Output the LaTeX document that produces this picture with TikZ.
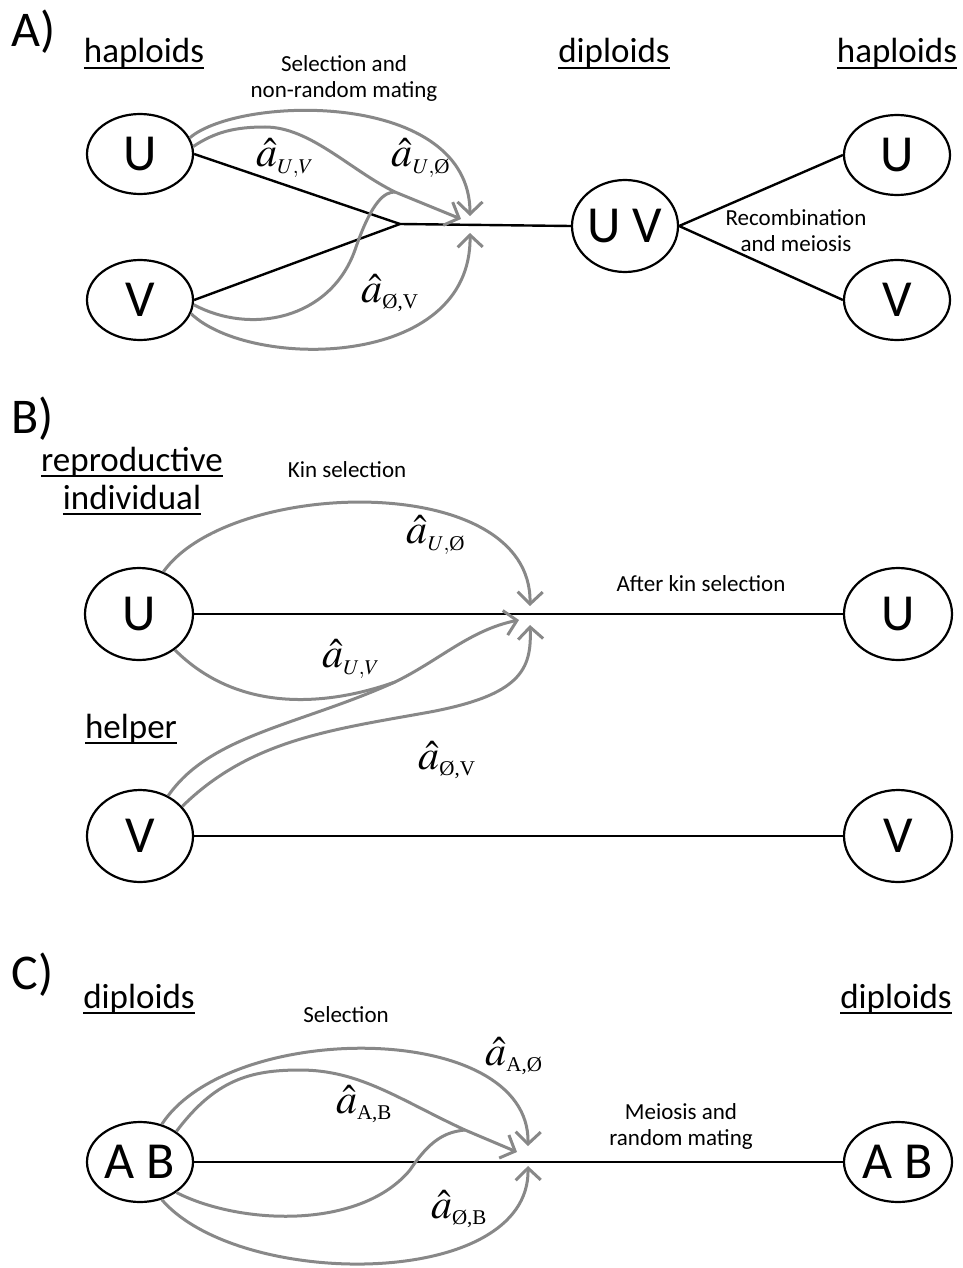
\documentclass[tikz,border=0pt]{standalone}
\usepackage{mathptmx}
\usepackage{amsmath}
\usepackage{fontspec}
\setmainfont{Carlito}
\newfontfamily\lblfont{Liberation Serif}
\usetikzlibrary{shapes.geometric, arrows.meta}
\DeclareMathSizes{42}{42}{21}{16}

\definecolor{selgray}{RGB}{136,136,136}
\newcommand{\hdrline}[1]{\setbox0\hbox{#1}\rlap{\rule[-6pt]{\wd0}{2.4pt}}\box0}

\tikzset{
  popn/.style={draw, ellipse, line width=2.2pt, inner sep=0pt, minimum width=106pt, minimum height=80pt, font=\fontsize{52}{58}\selectfont},
  link/.style={line width=2.4pt},
  sel/.style={line width=3pt, draw=selgray, -{Straight Barb[length=12pt, width=25pt]}},
  selm/.style={line width=3pt, draw=selgray},
  hdr/.style={anchor=base, font=\fontsize{35}{38}\selectfont, align=center},
  note/.style={font=\fontsize{23}{26}\selectfont, align=center},
  panel/.style={anchor=base west, font=\fontsize{50}{56}\selectfont},
  coef/.style={font=\fontsize{42}{46}\selectfont},
}

\begin{document}
\begin{tikzpicture}[x=1pt, y=-1pt]
\useasboundingbox (0,0) rectangle (962,1268);

% A)
\node[panel] (lblA) at (8,47) {A)};
\node[hdr] (hapA) at (144,63) {\hdrline{haploids}};
\node[hdr] (dipA) at (614,63) {\hdrline{diploids}};
\node[hdr] (hapA2) at (897,63) {\hdrline{haploids}};
\node[note] (selA) at (344,78) {Selection and\\non-random mating};
\node[note] (recA) at (796,231) {Recombination\\and meiosis};

\node[popn] (uA) at (140,154) {U};
\node[popn] (vA) at (140,300) {V};
\node[popn, minimum height=92pt] (uvA) at (625,226) {U V};
\node[popn] (uA2) at (897,155) {U};
\node[popn] (vA2) at (897,300) {V};
\coordinate (jA) at (400,224);
\draw[link] (uA.east) -- (jA);
\draw[link] (vA.east) -- (jA);
\draw[link] (jA) -- (uvA.west);
\draw[link] (uvA.east) -- (uA2.west);
\draw[link] (uvA.east) -- (vA2.west);

\coordinate (tAd) at (470,216);
\coordinate (tAr) at (461,219);
\coordinate (tAu) at (470,233);
\coordinate (mA) at (395,192);
\draw[sel] (uA.18) .. controls (240,95) and (470,90) .. (tAd);
\draw[sel] (uA.8) .. controls (215,132) and (235,127) .. (265,127) .. controls (310,127) and (350,170) .. (mA) -- (tAr);
\draw[selm] (vA.-5) .. controls (250,335) and (330,320) .. (355,250) .. controls (372,200) and (385,192) .. (mA);
\draw[sel] (vA.-15) .. controls (250,370) and (472,370) .. (tAu);
\node[coef] (aUVa) at (285,158) {$\hat{a}_{U,V}$};
\node[coef] (aUOa) at (421,158) {$\hat{a}_{U,\text{\lblfont\O}}$};
\node[coef] (aOVa) at (390,293) {$\hat{a}_{\text{\lblfont\O,V}}$};

% B)
\node[panel] (lblB) at (8,433) {B)};
\node[hdr] (repB) at (132,509) {\hdrline{reproductive}\\\hdrline{individual}};
\node[hdr] (helpB) at (131,738) {\hdrline{helper}};
\node[note] (kinB) at (347,470) {Kin selection};
\node[note] (aftB) at (701,584) {After kin selection};

\node[popn, minimum width=108pt, minimum height=92pt] (uB) at (139,614) {U};
\node[popn, minimum width=108pt, minimum height=92pt] (uB2) at (898,614) {U};
\node[popn, minimum width=106pt, minimum height=92pt] (vB) at (140,836) {V};
\node[popn, minimum width=108pt, minimum height=92pt] (vB2) at (898,836) {V};
\draw[link] (uB.east) -- (uB2.west);
\draw[link] (vB.east) -- (vB2.west);

\coordinate (tBd) at (530,606);
\coordinate (tBr) at (519,620);
\coordinate (tBu) at (530,625);
\coordinate (mB) at (395,682);
\draw[sel] (uB.60) .. controls (230,478) and (532,470) .. (tBd);
\draw[selm] (uB.-45) .. controls (240,715) and (330,705) .. (mB);
\draw[sel] (vB.55) .. controls (210,735) and (300,725) .. (mB) .. controls (440,660) and (470,630) .. (tBr);
\draw[sel] (vB.35) .. controls (250,740) and (330,730) .. (430,712) .. controls (520,695) and (532,670) .. (tBu);
\node[coef] (aUOb) at (436,535) {$\hat{a}_{U,\text{\lblfont\O}}$};
\node[coef] (aUVb) at (351,659) {$\hat{a}_{U,V}$};
\node[coef] (aOVb) at (447,760) {$\hat{a}_{\text{\lblfont\O,V}}$};

% C)
\node[panel] (lblC) at (8,989) {C)};
\node[hdr] (dipC) at (139,1008) {\hdrline{diploids}};
\node[hdr] (dipC2) at (896,1008) {\hdrline{diploids}};
\node[note] (selC) at (346,1015) {Selection};
\node[note] (meiC) at (681,1126) {Meiosis and\\random mating};

\node[popn] (abC) at (140,1162) {A B};
\node[popn, minimum width=108pt] (abC2) at (898,1162) {A B};
\draw[link] (abC.east) -- (abC2.west);

\coordinate (tCd) at (528,1146);
\coordinate (tCr) at (517,1152);
\coordinate (tCu) at (528,1166);
\coordinate (mC) at (465,1130);
\draw[sel] (abC.60) .. controls (230,1020) and (530,1020) .. (tCd);
\draw[sel] (abC.40) .. controls (215,1080) and (250,1070) .. (300,1070) .. controls (360,1070) and (400,1100) .. (mC) -- (tCr);
\draw[selm] (abC.-40) .. controls (240,1225) and (360,1230) .. (410,1170) .. controls (430,1140) and (445,1132) .. (mC);
\draw[sel] (abC.-60) .. controls (240,1290) and (530,1290) .. (tCu);
\node[coef] (aAOc) at (514,1056) {$\hat{a}_{\text{\lblfont A,\O}}$};
\node[coef] (aABc) at (364,1104) {$\hat{a}_{\text{\lblfont A,B}}$};
\node[coef] (aOBc) at (459,1209) {$\hat{a}_{\text{\lblfont\O,B}}$};
\end{tikzpicture}
\end{document}
